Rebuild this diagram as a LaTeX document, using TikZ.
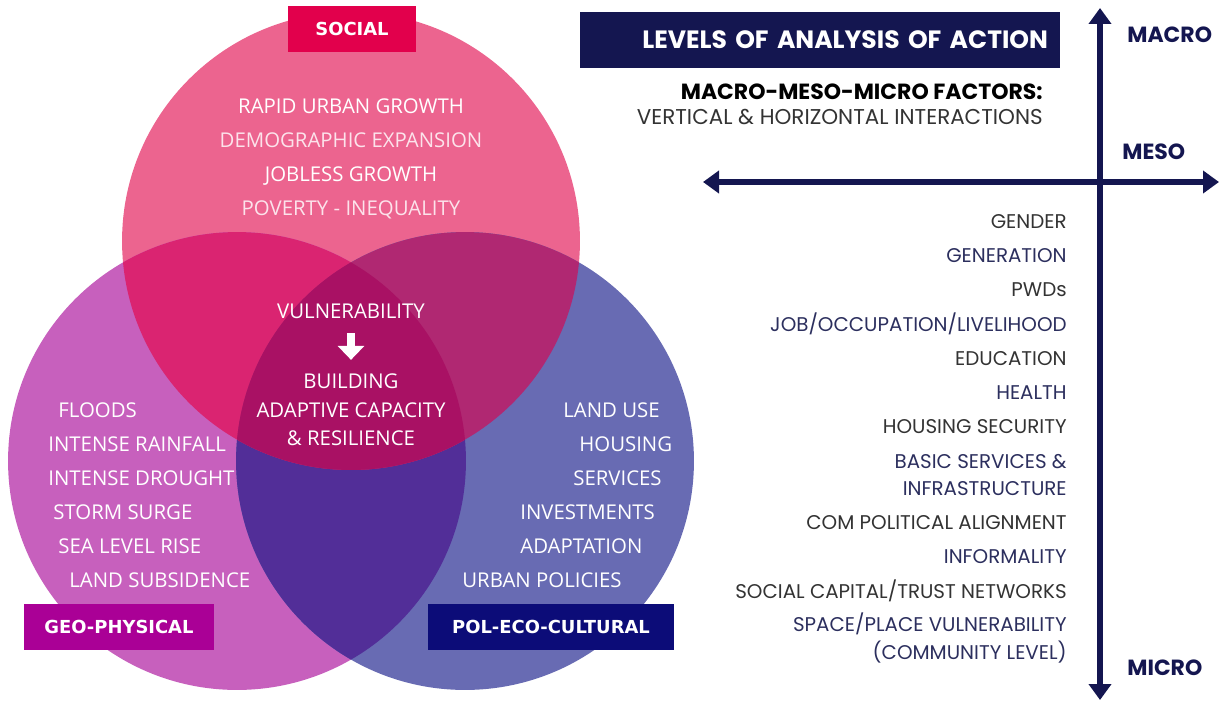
\documentclass[tikz,border=0pt]{standalone}
\usepackage{fontspec}
\setmainfont{Open Sans}
\newfontfamily\popfont{Poppins}
\newfontfamily\tagfont{DejaVu Sans}
\usepackage{tikz}
\usetikzlibrary{arrows.meta, positioning}

\definecolor{SocPink}{RGB}{236,100,143}
\definecolor{GeoPink}{RGB}{199,96,189}
\definecolor{PolBlue}{RGB}{104,107,179}
\definecolor{SocGeo}{RGB}{218,36,113}
\definecolor{SocPol}{RGB}{176,40,114}
\definecolor{GeoPol}{RGB}{82,46,152}
\definecolor{AllThree}{RGB}{169,17,100}
\definecolor{SocRed}{RGB}{226,0,76}
\definecolor{GeoMag}{RGB}{170,0,150}
\definecolor{PolNavy}{RGB}{12,12,120}
\definecolor{AxisNavy}{RGB}{20,22,80}
\definecolor{ListDark}{RGB}{51,51,51}
\definecolor{ListNavy}{RGB}{44,47,94}

\begin{document}
\begin{tikzpicture}[
            x=0.02cm, y=-0.02cm,
            node distance=0.68cm,
            venntext/.style={text=white, inner sep=0pt, text height=8.3pt, text depth=0pt,
                        font=\fontsize{11.6}{13}\selectfont},
            vennfaint/.style={venntext, text=white!82!SocPink},
            tagbox/.style={rectangle, text=white, minimum height=0.92cm, inner sep=0pt,
                        font=\tagfont\bfseries\fontsize{10.2}{12}\selectfont},
            listdark/.style={anchor=east, inner sep=0pt, text=ListDark, align=right,
                        font=\popfont\fontsize{11.3}{15.9}\selectfont},
            listnavy/.style={listdark, text=ListNavy},
            levelname/.style={anchor=west, inner sep=0pt, text=AxisNavy,
                        font=\popfont\bfseries\fontsize{12.5}{15}\selectfont},
            axisline/.style={{Triangle[length=0.32cm, width=0.44cm]}-{Triangle[length=0.32cm, width=0.44cm]},
                        line width=0.12cm, AxisNavy}
        ]
            \useasboundingbox (0,0) rectangle (1219,703);

            % Venn circles
            \fill[SocPink] (351,241) circle[radius=4.58cm];
            \fill[GeoPink] (237,461) circle[radius=4.58cm];
            \fill[PolBlue] (465,461) circle[radius=4.58cm];
            \begin{scope}
                \clip (237,461) circle[radius=4.58cm];
                \fill[GeoPol] (465,461) circle[radius=4.58cm];
            \end{scope}
            \begin{scope}
                \clip (351,241) circle[radius=4.58cm];
                \fill[SocGeo] (237,461) circle[radius=4.58cm];
                \fill[SocPol] (465,461) circle[radius=4.58cm];
                \clip (237,461) circle[radius=4.58cm];
                \fill[AllThree] (465,461) circle[radius=4.58cm];
            \end{scope}

            % Tags
            \node[tagbox, fill=SocRed, minimum width=2.56cm] (social) at (352,29) {SOCIAL};
            \node[tagbox, fill=GeoMag, minimum width=3.8cm] (geo) at (119,627) {GEO-PHYSICAL};
            \node[tagbox, fill=PolNavy, minimum width=4.92cm] (pol) at (551,627) {POL-ECO-CULTURAL};

            % Social factors
            \node[venntext] (rapid) at (351,106) {RAPID URBAN GROWTH};
            \node[vennfaint, on grid, below=of rapid] (demo) {DEMOGRAPHIC EXPANSION};
            \node[venntext, on grid, below=of demo] (jobless) {JOBLESS GROWTH};
            \node[vennfaint, on grid, below=of jobless] (poverty) {POVERTY - INEQUALITY};

            % Centre
            \node[venntext] (vul) at (351,311) {VULNERABILITY};
            \node[venntext] (build) at (351,381) {BUILDING};
            \node[venntext] (adapt) at (351,410) {ADAPTIVE CAPACITY};
            \node[venntext] (resil) at (351,438) {\& RESILIENCE};
            \draw[white, line width=0.16cm, -{Triangle[length=0.28cm, width=0.52cm]},
                  shorten <=0.29cm, shorten >=0.27cm] (vul.south) -- (build.north);

            % Geo-physical factors
            \node[venntext, anchor=west] (floods) at (58,410) {FLOODS};
            \node[venntext, anchor=west] (rain) at (48,444) {INTENSE RAINFALL};
            \node[venntext, anchor=west] (drought) at (48,478) {INTENSE DROUGHT};
            \node[venntext, anchor=west] (storm) at (53,512) {STORM SURGE};
            \node[venntext, anchor=west] (sea) at (58,546) {SEA LEVEL RISE};
            \node[venntext, anchor=west] (subs) at (69,580) {LAND SUBSIDENCE};

            % Pol-eco-cultural factors
            \node[venntext, anchor=west] (landuse) at (563,410) {LAND USE};
            \node[venntext, anchor=west] (housing) at (579,444) {HOUSING};
            \node[venntext, anchor=west] (services) at (573,478) {SERVICES};
            \node[venntext, anchor=west] (invest) at (520,512) {INVESTMENTS};
            \node[venntext, anchor=west] (adaptation) at (520,546) {ADAPTATION};
            \node[venntext, anchor=west] (policies) at (462,580) {URBAN POLICIES};

            % Header
            \node[fill=AxisNavy, text=white, minimum width=9.6cm, minimum height=1.12cm,
                  text width=9.12cm, align=right, inner xsep=0.24cm,
                  font=\popfont\bfseries\fontsize{14.25}{17}\selectfont] (levels) at (820,40)
                  {LEVELS OF ANALYSIS OF ACTION};
            \node[anchor=east, inner sep=0pt, text=black,
                  font=\popfont\bfseries\fontsize{12.5}{15}\selectfont] (factors) at (1043,92)
                  {MACRO-MESO-MICRO FACTORS:};
            \node[anchor=east, inner sep=0pt, text=ListDark,
                  font=\popfont\fontsize{12.2}{14}\selectfont] (interact) at (1043,117)
                  {VERTICAL \& HORIZONTAL INTERACTIONS};

            % Axes
            \coordinate (vtop) at (1100,8);
            \coordinate (vbot) at (1100,700);
            \coordinate (hleft) at (703,182);
            \coordinate (hright) at (1219,182);
            \draw[axisline] (vbot) -- (vtop);
            \draw[axisline] (hleft) -- (hright);
            \node[levelname] (macro) at (1127,35) {MACRO};
            \node[levelname] (meso) at (1122,152) {MESO};
            \node[levelname] (micro) at (1127,668) {MICRO};

            % Micro factors
            \node[listdark] (gender) at (1067,222) {GENDER};
            \node[listnavy] (generation) at (1067,256) {GENERATION};
            \node[listdark] (pwds) at (1067,290) {PWDs};
            \node[listnavy] (job) at (1067,324) {JOB/OCCUPATION/LIVELIHOOD};
            \node[listdark] (educ) at (1067,359) {EDUCATION};
            \node[listnavy] (health) at (1067,393) {HEALTH};
            \node[listdark] (hsec) at (1067,427) {HOUSING SECURITY};
            \node[listnavy] (basic) at (1067,475) {BASIC SERVICES \&\\INFRASTRUCTURE};
            \node[listdark] (com) at (1067,523) {COM POLITICAL ALIGNMENT};
            \node[listnavy] (informal) at (1067,557) {INFORMALITY};
            \node[listdark] (capital) at (1067,591) {SOCIAL CAPITAL/TRUST NETWORKS};
            \node[listnavy] (space) at (1067,638) {SPACE/PLACE VULNERABILITY\\(COMMUNITY LEVEL)};
        \end{tikzpicture}
\end{document}
